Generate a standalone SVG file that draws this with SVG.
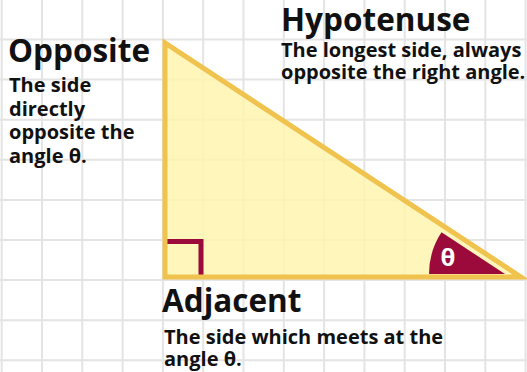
<svg xmlns="http://www.w3.org/2000/svg" width="527" height="372" viewBox="0 0 527 372">
  <style>
    .grid { stroke: #e4e4e4; stroke-width: 2; fill: none; }
    .title { font-family: "Open Sans", "Liberation Sans", sans-serif; font-weight: 700; font-size: 31.5px; fill: #111; }
    .desc { font-family: "Open Sans", "Liberation Sans", sans-serif; font-weight: 700; font-size: 20px; fill: #111; }
    .theta { font-family: "Open Sans", "Liberation Sans", sans-serif; font-weight: 700; font-size: 24px; fill: #fff; }
  </style>
  <rect width="527" height="372" fill="#ffffff"/>
  <path class="grid" d="M1.7,0V372 M42,0V372 M82.3,0V372 M122.6,0V372 M162.9,0V372 M203.2,0V372 M243.5,0V372 M283.8,0V372 M324.1,0V372 M364.4,0V372 M404.7,0V372 M445,0V372 M485.3,0V372 M525.6,0V372 M0,39.5H527 M0,79.6H527 M0,119.7H527 M0,159.8H527 M0,199.9H527 M0,240H527 M0,280.1H527 M0,320.2H527 M0,360.3H527"/>
  <g id="triangle">
    <path d="M165,43 L165,277 L521,277 Z" fill="#fff5b0" fill-opacity="0.85"/>
    <path d="M505,274 L429,274 A76,76 0 0 1 441.5,232.3 Z" fill="#9b0a3b"/>
    <path d="M167,241.5 H201 V277" fill="none" stroke="#9b0a3b" stroke-width="5"/>
    <path d="M165,43 L165,277 L521,277 Z" fill="none" stroke="#f0c24e" stroke-width="5" stroke-linejoin="miter" stroke-miterlimit="10"/>
    <text class="theta" x="448" y="265.5" text-anchor="middle">θ</text>
  </g>
  <g id="opposite">
    <text class="title" x="8" y="62">Opposite</text>
    <text class="desc" x="9" y="92">The side</text>
    <text class="desc" x="9" y="115.5">directly</text>
    <text class="desc" x="9" y="139">opposite the</text>
    <text class="desc" x="9" y="162.5">angle θ.</text>
  </g>
  <g id="hypotenuse">
    <text class="title" x="281" y="31">Hypotenuse</text>
    <text class="desc" x="281" y="56.5">The longest side, always</text>
    <text class="desc" x="281" y="78.5">opposite the right angle.</text>
  </g>
  <g id="adjacent">
    <text class="title" x="162" y="312">Adjacent</text>
    <text class="desc" x="164" y="344">The side which meets at the</text>
    <text class="desc" x="164" y="366">angle θ.</text>
  </g>
  <g id="connectors"></g>
</svg>
